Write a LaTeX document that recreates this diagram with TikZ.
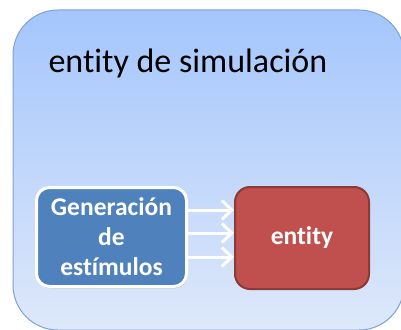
\documentclass[tikz,border=0pt]{standalone}
\usepackage{fontspec}
\setmainfont{Carlito}[Ligatures={NoCommon}]
\usetikzlibrary{arrows.meta,shadows}
\definecolor{outerTop}{RGB}{164,198,252}
\definecolor{outerBot}{RGB}{222,232,250}
\definecolor{outerLine}{RGB}{126,162,212}
\definecolor{genBlue}{RGB}{79,129,189}
\definecolor{entRed}{RGB}{192,80,77}
\definecolor{entLine}{RGB}{140,58,56}
\tikzset{
  genbox/.style={draw=white, line width=3pt, fill=genBlue, rounded corners=13pt,
    minimum width=150pt, minimum height=99pt, inner sep=0pt, align=center,
    text=white, font=\fontsize{25.5}{30}\selectfont\bfseries,
    drop shadow={opacity=0.25, shadow xshift=1pt, shadow yshift=-2pt}},
  entbox/.style={draw=entLine, line width=2pt, fill=entRed, rounded corners=15pt,
    minimum width=134pt, minimum height=102pt, inner sep=0pt,
    text=white, font=\fontsize{25.5}{30}\selectfont\bfseries},
  flow/.style={draw=white, line width=3pt,
    -{Straight Barb[length=10pt,width=19pt,line width=3pt]}},
}
\begin{document}
\begin{tikzpicture}[x=1pt,y=-1pt]
\useasboundingbox (0,0) rectangle (401,329);
\clip (0,0) rectangle (401,329);
\fill[white] (0,0) rectangle (401,329);
\path[top color=outerTop, bottom color=outerBot, draw=outerLine, line width=1pt,
  rounded corners=45pt] (13,10) rectangle (404,330);
\node[anchor=base west, font=\fontsize{34}{40}\selectfont, text=black] (title) at (45,72) {entity de simulación};
\node[genbox] (gen) at (111.5,237) {Generación\\de\\estímulos};
\node[entbox] (ent) at (302,238) {entity};
\draw[flow] (gen.east |- 0,210) -- (ent.west |- 0,210);
\draw[flow] (gen.east |- 0,233) -- (ent.west |- 0,233);
\draw[flow] (gen.east |- 0,257) -- (ent.west |- 0,257);
\end{tikzpicture}
\end{document}
